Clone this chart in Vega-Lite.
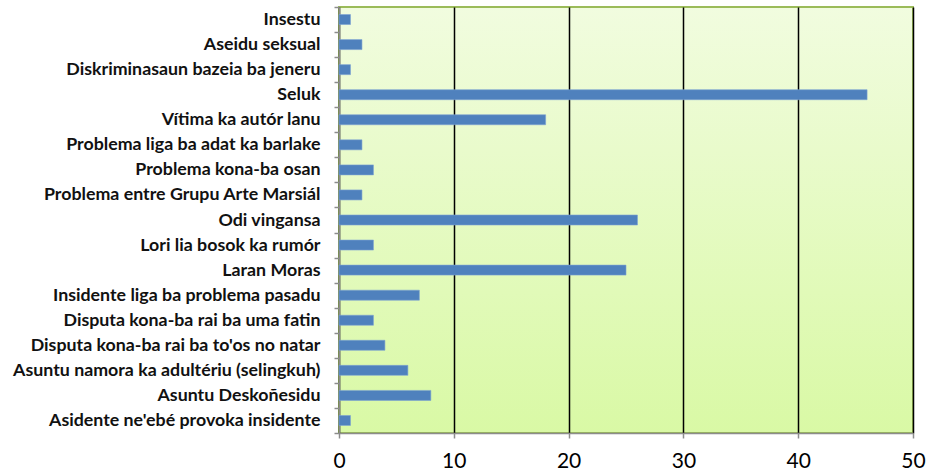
{
  "$schema": "https://vega.github.io/schema/vega-lite/v6.json",
  "width": 574,
  "height": 426,
  "autosize": {"type": "none"},
  "padding": {"left": 339, "top": 7, "right": 17, "bottom": 37},
  "background": "white",
  "config": {
    "view": {
      "stroke": "#9bbb59",
      "strokeWidth": 2,
      "fill": {
        "gradient": "linear",
        "x1": 0, "y1": 0, "x2": 0, "y2": 1,
        "stops": [
          {"offset": 0, "color": "#f1fcdf"},
          {"offset": 1, "color": "#d9f9a5"}
        ]
      }
    },
    "font": "Lato"
  },
  "data": {
    "values": [
      {"kategoria": "Insestu", "total": 1},
      {"kategoria": "Aseidu seksual", "total": 2},
      {"kategoria": "Diskriminasaun bazeia ba jeneru", "total": 1},
      {"kategoria": "Seluk", "total": 46},
      {"kategoria": "Vítima ka autór lanu", "total": 18},
      {"kategoria": "Problema liga ba adat ka barlake", "total": 2},
      {"kategoria": "Problema kona-ba osan", "total": 3},
      {"kategoria": "Problema entre Grupu Arte Marsiál", "total": 2},
      {"kategoria": "Odi vingansa", "total": 26},
      {"kategoria": "Lori lia bosok ka rumór", "total": 3},
      {"kategoria": "Laran Moras", "total": 25},
      {"kategoria": "Insidente liga ba problema pasadu", "total": 7},
      {"kategoria": "Disputa kona-ba rai ba uma fatin", "total": 3},
      {"kategoria": "Disputa kona-ba rai ba to'os no natar", "total": 4},
      {"kategoria": "Asuntu namora ka adultériu (selingkuh)", "total": 6},
      {"kategoria": "Asuntu Deskoñesidu", "total": 8},
      {"kategoria": "Asidente ne'ebé provoka insidente", "total": 1}
    ]
  },
  "mark": {"type": "bar", "color": "#4f81bd", "size": 10, "stroke": "#7da3d3", "strokeWidth": 0.6},
  "encoding": {
    "y": {
      "field": "kategoria",
      "type": "nominal",
      "sort": null,
      "title": null,
      "scale": {"paddingInner": 0, "paddingOuter": 0},
      "axis": {
        "labelFont": "Lato",
        "labelFontWeight": "bold",
        "labelFontSize": 17.8,
        "labelColor": "#111111",
        "labelPadding": 14,
        "tickBand": "extent",
        "tickSize": 5,
        "tickColor": "#8c8c8c",
        "tickWidth": 1.5,
        "domainColor": "#8c8c8c",
        "domainWidth": 1.5,
        "labelLimit": 400
      }
    },
    "x": {
      "field": "total",
      "type": "quantitative",
      "title": null,
      "scale": {"domain": [0, 50], "nice": false},
      "axis": {
        "values": [0, 10, 20, 30, 40, 50],
        "grid": true,
        "gridColor": "#000000",
        "gridWidth": 1.5,
        "gridOpacity": 1,
        "labelFont": "Lato",
        "labelFontSize": 21,
        "labelColor": "#000000",
        "labelPadding": 12,
        "tickSize": 5,
        "tickColor": "#8c8c8c",
        "tickWidth": 1.5,
        "domainColor": "#8c8c8c",
        "domainWidth": 1.5,
        "labelFlush": false
      }
    }
  }
}
